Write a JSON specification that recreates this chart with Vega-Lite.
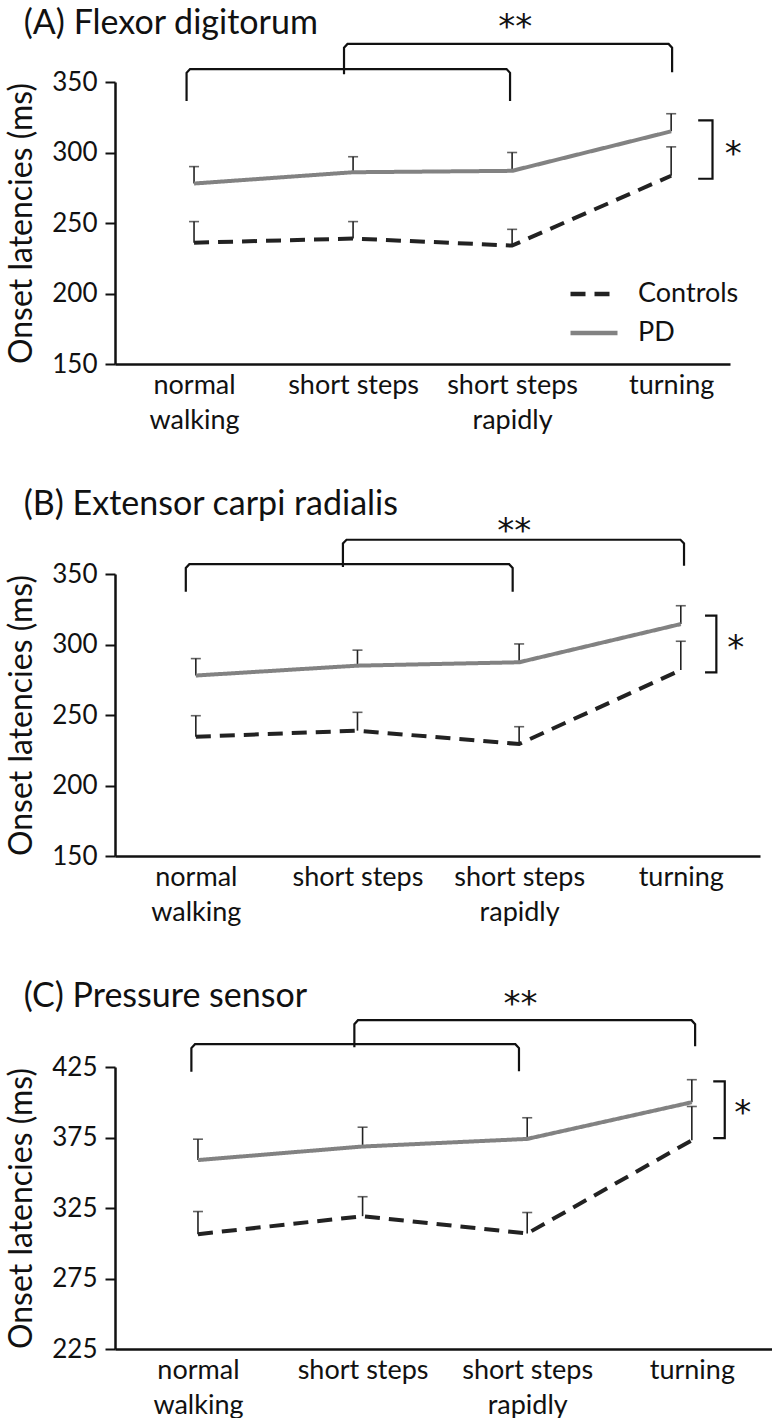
{
  "$schema": "https://vega.github.io/schema/vega-lite/v6.json",
  "background": "white",
  "padding": {"left": 5, "top": 7, "right": 0, "bottom": 0},
  "spacing": 54,
  "datasets": {
    "means": [
      {"panel": "A", "condition": "normal walking", "pos": 1, "group": "Controls", "mean": 236, "upper": 251},
      {"panel": "A", "condition": "short steps", "pos": 2, "group": "Controls", "mean": 239, "upper": 251},
      {"panel": "A", "condition": "short steps rapidly", "pos": 3, "group": "Controls", "mean": 234, "upper": 245.5},
      {"panel": "A", "condition": "turning", "pos": 4, "group": "Controls", "mean": 283.5, "upper": 304},
      {"panel": "A", "condition": "normal walking", "pos": 1, "group": "PD", "mean": 278, "upper": 290},
      {"panel": "A", "condition": "short steps", "pos": 2, "group": "PD", "mean": 286, "upper": 297},
      {"panel": "A", "condition": "short steps rapidly", "pos": 3, "group": "PD", "mean": 287, "upper": 300},
      {"panel": "A", "condition": "turning", "pos": 4, "group": "PD", "mean": 315, "upper": 327.5},
      {"panel": "B", "condition": "normal walking", "pos": 1, "group": "Controls", "mean": 234.6, "upper": 249.5},
      {"panel": "B", "condition": "short steps", "pos": 2, "group": "Controls", "mean": 238.9, "upper": 251.9},
      {"panel": "B", "condition": "short steps rapidly", "pos": 3, "group": "Controls", "mean": 229.4, "upper": 241.7},
      {"panel": "B", "condition": "turning", "pos": 4, "group": "Controls", "mean": 281.9, "upper": 302.3},
      {"panel": "B", "condition": "normal walking", "pos": 1, "group": "PD", "mean": 278, "upper": 290},
      {"panel": "B", "condition": "short steps", "pos": 2, "group": "PD", "mean": 285, "upper": 296},
      {"panel": "B", "condition": "short steps rapidly", "pos": 3, "group": "PD", "mean": 287.4, "upper": 300.4},
      {"panel": "B", "condition": "turning", "pos": 4, "group": "PD", "mean": 314.5, "upper": 327.5},
      {"panel": "C", "condition": "normal walking", "pos": 1, "group": "Controls", "mean": 306.4, "upper": 322.5},
      {"panel": "C", "condition": "short steps", "pos": 2, "group": "Controls", "mean": 319.2, "upper": 333},
      {"panel": "C", "condition": "short steps rapidly", "pos": 3, "group": "Controls", "mean": 306.9, "upper": 321.8},
      {"panel": "C", "condition": "turning", "pos": 4, "group": "Controls", "mean": 373, "upper": 397},
      {"panel": "C", "condition": "normal walking", "pos": 1, "group": "PD", "mean": 359, "upper": 373.8},
      {"panel": "C", "condition": "short steps", "pos": 2, "group": "PD", "mean": 368.6, "upper": 382.3},
      {"panel": "C", "condition": "short steps rapidly", "pos": 3, "group": "PD", "mean": 374, "upper": 389},
      {"panel": "C", "condition": "turning", "pos": 4, "group": "PD", "mean": 400, "upper": 416}
    ],
    "brackets": [
      {"panel": "A", "id": "b1", "ord": 1, "pos": 0.953, "val": 336.5},
      {"panel": "A", "id": "b1", "ord": 2, "pos": 0.953, "val": 356.5},
      {"panel": "A", "id": "b1", "ord": 3, "pos": 0.975, "val": 359.2},
      {"panel": "A", "id": "b1", "ord": 4, "pos": 2.965, "val": 359.2},
      {"panel": "A", "id": "b1", "ord": 5, "pos": 2.987, "val": 356.5},
      {"panel": "A", "id": "b1", "ord": 6, "pos": 2.987, "val": 336.5},
      {"panel": "A", "id": "b2", "ord": 1, "pos": 1.943, "val": 355.5},
      {"panel": "A", "id": "b2", "ord": 2, "pos": 1.943, "val": 374.3},
      {"panel": "A", "id": "b2", "ord": 3, "pos": 1.965, "val": 377},
      {"panel": "A", "id": "b2", "ord": 4, "pos": 3.984, "val": 377},
      {"panel": "A", "id": "b2", "ord": 5, "pos": 4.006, "val": 374.3},
      {"panel": "A", "id": "b2", "ord": 6, "pos": 4.006, "val": 357},
      {"panel": "A", "id": "s1", "ord": 1, "pos": 4.17, "val": 322.8},
      {"panel": "A", "id": "s1", "ord": 2, "pos": 4.26, "val": 322.8},
      {"panel": "A", "id": "s1", "ord": 3, "pos": 4.26, "val": 281.4},
      {"panel": "A", "id": "s1", "ord": 4, "pos": 4.17, "val": 281.4},
      {"panel": "B", "id": "b1", "ord": 1, "pos": 0.938, "val": 337.5},
      {"panel": "B", "id": "b1", "ord": 2, "pos": 0.938, "val": 354.3},
      {"panel": "B", "id": "b1", "ord": 3, "pos": 0.96, "val": 357},
      {"panel": "B", "id": "b1", "ord": 4, "pos": 2.938, "val": 357},
      {"panel": "B", "id": "b1", "ord": 5, "pos": 2.96, "val": 354.3},
      {"panel": "B", "id": "b1", "ord": 6, "pos": 2.96, "val": 337.5},
      {"panel": "B", "id": "b2", "ord": 1, "pos": 1.91, "val": 355},
      {"panel": "B", "id": "b2", "ord": 2, "pos": 1.91, "val": 371.6},
      {"panel": "B", "id": "b2", "ord": 3, "pos": 1.932, "val": 374.3},
      {"panel": "B", "id": "b2", "ord": 4, "pos": 3.998, "val": 374.3},
      {"panel": "B", "id": "b2", "ord": 5, "pos": 4.02, "val": 371.6},
      {"panel": "B", "id": "b2", "ord": 6, "pos": 4.02, "val": 355.9},
      {"panel": "B", "id": "s1", "ord": 1, "pos": 4.15, "val": 320.5},
      {"panel": "B", "id": "s1", "ord": 2, "pos": 4.22, "val": 320.5},
      {"panel": "B", "id": "s1", "ord": 3, "pos": 4.22, "val": 280.3},
      {"panel": "B", "id": "s1", "ord": 4, "pos": 4.15, "val": 280.3},
      {"panel": "C", "id": "b1", "ord": 1, "pos": 0.96, "val": 421.6},
      {"panel": "C", "id": "b1", "ord": 2, "pos": 0.96, "val": 438.4},
      {"panel": "C", "id": "b1", "ord": 3, "pos": 0.982, "val": 441.2},
      {"panel": "C", "id": "b1", "ord": 4, "pos": 2.928, "val": 441.2},
      {"panel": "C", "id": "b1", "ord": 5, "pos": 2.95, "val": 438.4},
      {"panel": "C", "id": "b1", "ord": 6, "pos": 2.95, "val": 422},
      {"panel": "C", "id": "b2", "ord": 1, "pos": 1.95, "val": 439},
      {"panel": "C", "id": "b2", "ord": 2, "pos": 1.95, "val": 455.4},
      {"panel": "C", "id": "b2", "ord": 3, "pos": 1.972, "val": 458.2},
      {"panel": "C", "id": "b2", "ord": 4, "pos": 3.998, "val": 458.2},
      {"panel": "C", "id": "b2", "ord": 5, "pos": 4.02, "val": 455.4},
      {"panel": "C", "id": "b2", "ord": 6, "pos": 4.02, "val": 439.7},
      {"panel": "C", "id": "s1", "ord": 1, "pos": 4.13, "val": 414.8},
      {"panel": "C", "id": "s1", "ord": 2, "pos": 4.2, "val": 414.8},
      {"panel": "C", "id": "s1", "ord": 3, "pos": 4.2, "val": 374.5},
      {"panel": "C", "id": "s1", "ord": 4, "pos": 4.13, "val": 374.5}
    ],
    "sig": [
      {"panel": "A", "label": "**", "pos": 3.02, "val": 388},
      {"panel": "A", "label": "*", "pos": 4.39, "val": 298},
      {"panel": "B", "label": "**", "pos": 2.97, "val": 380},
      {"panel": "B", "label": "*", "pos": 4.34, "val": 297},
      {"panel": "C", "label": "**", "pos": 2.96, "val": 469},
      {"panel": "C", "label": "*", "pos": 4.31, "val": 392}
    ]
  },
  "vconcat": [
    {
      "title": {"text": "(A) Flexor digitorum", "offset": -30},
      "width": 615,
      "height": 282,
      "layer": [
        {
          "data": {"name": "means"},
          "transform": [{"filter": "datum.panel == 'A'"}],
          "mark": {"type": "rule", "color": "#222222", "strokeWidth": 1.6},
          "encoding": {
            "x": {"field": "pos", "type": "quantitative", "scale": {"domain": [0.503, 4.37], "nice": false, "zero": false}, "axis": {"values": [1, 2, 3, 4], "labelExpr": "datum.value == 1 ? ['normal', 'walking'] : datum.value == 2 ? 'short steps' : datum.value == 3 ? ['short steps', 'rapidly'] : 'turning'", "title": null}},
            "y": {"field": "mean", "type": "quantitative", "scale": {"domain": [150, 350], "nice": false, "zero": false}, "axis": {"values": [150, 200, 250, 300, 350], "title": "Onset latencies (ms)"}},
            "y2": {"field": "upper"}
          }
        },
        {
          "data": {"name": "means"},
          "transform": [{"filter": "datum.panel == 'A'"}],
          "mark": {"type": "tick", "orient": "horizontal", "color": "#222222", "size": 10, "thickness": 1.6},
          "encoding": {
            "x": {"field": "pos", "type": "quantitative"},
            "y": {"field": "upper", "type": "quantitative"}
          }
        },
        {
          "data": {"name": "means"},
          "transform": [{"filter": "datum.panel == 'A'"}],
          "mark": {"type": "line", "strokeWidth": 4},
          "encoding": {
            "x": {"field": "pos", "type": "quantitative"},
            "y": {"field": "mean", "type": "quantitative"},
            "color": {"field": "group", "type": "nominal", "scale": {"domain": ["Controls", "PD"], "range": ["#222222", "#828282"]}, "legend": {"orient": "none", "legendX": 453, "legendY": 186, "title": null}},
            "strokeDash": {"field": "group", "type": "nominal", "scale": {"domain": ["Controls", "PD"], "range": [[15, 9], [1, 0]]}, "legend": {"orient": "none", "legendX": 453, "legendY": 186, "title": null}}
          }
        },
        {
          "data": {"name": "brackets"},
          "transform": [{"filter": "datum.panel == 'A'"}],
          "mark": {"type": "line", "color": "#111111", "strokeWidth": 2.2},
          "encoding": {
            "x": {"field": "pos", "type": "quantitative"},
            "y": {"field": "val", "type": "quantitative"},
            "detail": {"field": "id"},
            "order": {"field": "ord", "type": "quantitative"}
          }
        },
        {
          "data": {"name": "sig"},
          "transform": [{"filter": "datum.panel == 'A'"}],
          "mark": {"type": "text", "font": "DejaVu Sans", "fontSize": 34, "color": "#111111", "baseline": "middle", "align": "center"},
          "encoding": {
            "x": {"field": "pos", "type": "quantitative"},
            "y": {"field": "val", "type": "quantitative"},
            "text": {"field": "label"}
          }
        }
      ]
    },
    {
      "title": {"text": "(B) Extensor carpi radialis", "offset": -7},
      "width": 645,
      "height": 282,
      "layer": [
        {
          "data": {"name": "means"},
          "transform": [{"filter": "datum.panel == 'B'"}],
          "mark": {"type": "rule", "color": "#222222", "strokeWidth": 1.6},
          "encoding": {
            "x": {"field": "pos", "type": "quantitative", "scale": {"domain": [0.5, 4.49], "nice": false, "zero": false}, "axis": {"values": [1, 2, 3, 4], "labelExpr": "datum.value == 1 ? ['normal', 'walking'] : datum.value == 2 ? 'short steps' : datum.value == 3 ? ['short steps', 'rapidly'] : 'turning'", "title": null}},
            "y": {"field": "mean", "type": "quantitative", "scale": {"domain": [150, 350], "nice": false, "zero": false}, "axis": {"values": [150, 200, 250, 300, 350], "title": "Onset latencies (ms)"}},
            "y2": {"field": "upper"}
          }
        },
        {
          "data": {"name": "means"},
          "transform": [{"filter": "datum.panel == 'B'"}],
          "mark": {"type": "tick", "orient": "horizontal", "color": "#222222", "size": 10, "thickness": 1.6},
          "encoding": {
            "x": {"field": "pos", "type": "quantitative"},
            "y": {"field": "upper", "type": "quantitative"}
          }
        },
        {
          "data": {"name": "means"},
          "transform": [{"filter": "datum.panel == 'B'"}],
          "mark": {"type": "line", "strokeWidth": 4},
          "encoding": {
            "x": {"field": "pos", "type": "quantitative"},
            "y": {"field": "mean", "type": "quantitative"},
            "color": {"field": "group", "type": "nominal", "scale": {"domain": ["Controls", "PD"], "range": ["#222222", "#828282"]}, "legend": null},
            "strokeDash": {"field": "group", "type": "nominal", "scale": {"domain": ["Controls", "PD"], "range": [[15, 9], [1, 0]]}, "legend": null}
          }
        },
        {
          "data": {"name": "brackets"},
          "transform": [{"filter": "datum.panel == 'B'"}],
          "mark": {"type": "line", "color": "#111111", "strokeWidth": 2.2},
          "encoding": {
            "x": {"field": "pos", "type": "quantitative"},
            "y": {"field": "val", "type": "quantitative"},
            "detail": {"field": "id"},
            "order": {"field": "ord", "type": "quantitative"}
          }
        },
        {
          "data": {"name": "sig"},
          "transform": [{"filter": "datum.panel == 'B'"}],
          "mark": {"type": "text", "font": "DejaVu Sans", "fontSize": 34, "color": "#111111", "baseline": "middle", "align": "center"},
          "encoding": {
            "x": {"field": "pos", "type": "quantitative"},
            "y": {"field": "val", "type": "quantitative"},
            "text": {"field": "label"}
          }
        }
      ]
    },
    {
      "title": {"text": "(C) Pressure sensor", "offset": -26},
      "width": 657,
      "height": 282,
      "layer": [
        {
          "data": {"name": "means"},
          "transform": [{"filter": "datum.panel == 'C'"}],
          "mark": {"type": "rule", "color": "#222222", "strokeWidth": 1.6},
          "encoding": {
            "x": {"field": "pos", "type": "quantitative", "scale": {"domain": [0.496, 4.487], "nice": false, "zero": false}, "axis": {"values": [1, 2, 3, 4], "labelExpr": "datum.value == 1 ? ['normal', 'walking'] : datum.value == 2 ? 'short steps' : datum.value == 3 ? ['short steps', 'rapidly'] : 'turning'", "title": null}},
            "y": {"field": "mean", "type": "quantitative", "scale": {"domain": [225, 425], "nice": false, "zero": false}, "axis": {"values": [225, 275, 325, 375, 425], "title": "Onset latencies (ms)"}},
            "y2": {"field": "upper"}
          }
        },
        {
          "data": {"name": "means"},
          "transform": [{"filter": "datum.panel == 'C'"}],
          "mark": {"type": "tick", "orient": "horizontal", "color": "#222222", "size": 10, "thickness": 1.6},
          "encoding": {
            "x": {"field": "pos", "type": "quantitative"},
            "y": {"field": "upper", "type": "quantitative"}
          }
        },
        {
          "data": {"name": "means"},
          "transform": [{"filter": "datum.panel == 'C'"}],
          "mark": {"type": "line", "strokeWidth": 4},
          "encoding": {
            "x": {"field": "pos", "type": "quantitative"},
            "y": {"field": "mean", "type": "quantitative"},
            "color": {"field": "group", "type": "nominal", "scale": {"domain": ["Controls", "PD"], "range": ["#222222", "#828282"]}, "legend": null},
            "strokeDash": {"field": "group", "type": "nominal", "scale": {"domain": ["Controls", "PD"], "range": [[15, 9], [1, 0]]}, "legend": null}
          }
        },
        {
          "data": {"name": "brackets"},
          "transform": [{"filter": "datum.panel == 'C'"}],
          "mark": {"type": "line", "color": "#111111", "strokeWidth": 2.2},
          "encoding": {
            "x": {"field": "pos", "type": "quantitative"},
            "y": {"field": "val", "type": "quantitative"},
            "detail": {"field": "id"},
            "order": {"field": "ord", "type": "quantitative"}
          }
        },
        {
          "data": {"name": "sig"},
          "transform": [{"filter": "datum.panel == 'C'"}],
          "mark": {"type": "text", "font": "DejaVu Sans", "fontSize": 34, "color": "#111111", "baseline": "middle", "align": "center"},
          "encoding": {
            "x": {"field": "pos", "type": "quantitative"},
            "y": {"field": "val", "type": "quantitative"},
            "text": {"field": "label"}
          }
        }
      ]
    }
  ],
  "resolve": {"scale": {"color": "independent", "strokeDash": "independent"}},
  "config": {
    "view": {"stroke": null},
    "font": "Lato",
    "title": {"font": "Lato", "fontSize": 34, "fontWeight": "normal", "color": "#111111", "anchor": "start", "frame": "bounds", "dx": 18},
    "axis": {"grid": false, "domainColor": "#111111", "domainWidth": 2.5, "tickColor": "#111111", "tickWidth": 2, "labelColor": "#111111", "labelFont": "Lato", "titleColor": "#111111", "labelOverlap": false},
    "axisX": {"ticks": false, "labelFontSize": 27, "labelPadding": 8, "labelLineHeight": 35, "labelBaseline": "top"},
    "axisY": {"tickSize": 10, "labelFontSize": 26, "labelPadding": 8, "titleFont": "Lato", "titleFontSize": 32, "titleFontWeight": "normal", "titlePadding": 13},
    "legend": {"symbolType": "stroke", "symbolSize": 2209, "symbolStrokeWidth": 4.5, "labelFontSize": 27, "labelFont": "Lato", "labelColor": "#111111", "labelOffset": 18, "rowPadding": -3}
  }
}
